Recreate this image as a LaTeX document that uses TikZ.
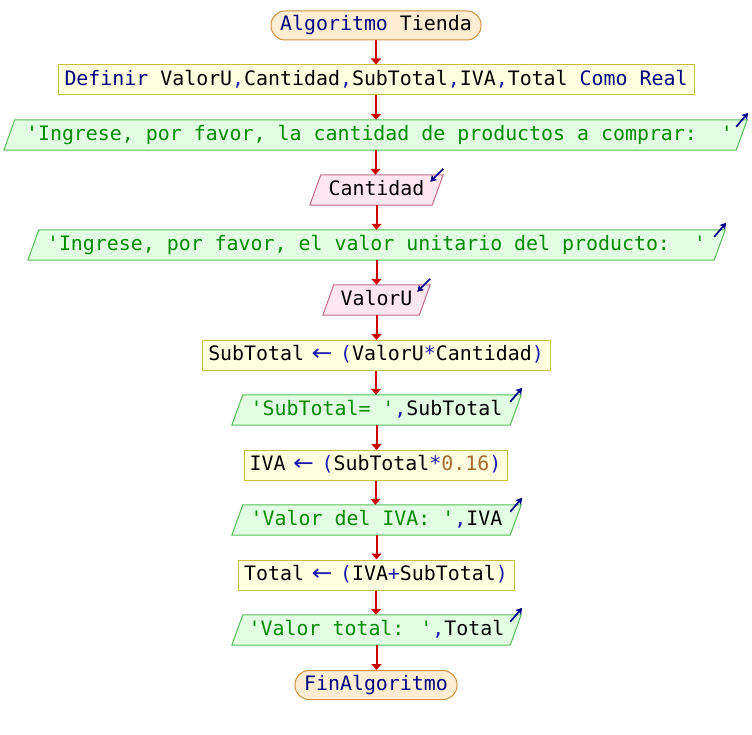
\documentclass[tikz,border=0pt]{standalone}
\usepackage{fontspec}
\newfontfamily\codefont{DejaVu Sans Mono}
\newfontfamily\arrowfont{DejaVu Sans}
\usetikzlibrary{arrows.meta}
\pgfdeclarelayer{bg}
\pgfsetlayers{bg,main}

% syntax colours
\definecolor{kwcol}{HTML}{000080}
\definecolor{pucol}{HTML}{1A1AB0}
\definecolor{stcol}{HTML}{008A00}
\definecolor{nucol}{HTML}{A86A2E}
% shape colours
\definecolor{startfill}{HTML}{FFEDD3}
\definecolor{startdraw}{HTML}{CF9040}
\definecolor{deffill}{HTML}{FFFFE0}
\definecolor{defdraw}{HTML}{C8BE3C}
\definecolor{outfill}{HTML}{E3FFE3}
\definecolor{outdraw}{HTML}{55BE55}
\definecolor{infill}{HTML}{FFE6F0}
\definecolor{indraw}{HTML}{C46A8C}
\definecolor{flowcol}{HTML}{CC0000}
\definecolor{iocol}{HTML}{00008C}

\newcommand\pkw[1]{\textcolor{kwcol}{#1}}
\newcommand\ppu[1]{\textcolor{pucol}{#1}}
\newcommand\pst[1]{\textcolor{stcol}{#1}}
\newcommand\pnu[1]{\textcolor{nucol}{#1}}
\newcommand\sq{\textquotesingle}
% assignment arrow, wider than one character cell
\newcommand\passign{\makebox[12pt][c]{\textcolor{pucol}{\scalebox{1.25}[1.1]{\arrowfont ←}}}}

\begin{document}
\begin{tikzpicture}[x=1pt,y=-1pt,
  every node/.style={font=\codefont\fontsize{19.9}{24}\selectfont,
    inner sep=0pt, text height=14.5pt, text depth=4pt, minimum height=30pt},
  startbox/.style={draw=startdraw, fill=startfill, line width=1pt,
    rounded corners=14pt, minimum height=29pt},
  procbox/.style={draw=defdraw, fill=deffill, line width=1pt},
  iobox/.style={},
  outshape/.style={draw=outdraw, fill=outfill, line width=1pt},
  inshape/.style={draw=indraw, fill=infill, line width=1pt},
  flow/.style={draw=flowcol, line width=2pt,
    -{Triangle[length=6pt,width=10pt]}},
  ioarrow/.style={draw=iocol, line width=1.7pt,
    -{Stealth[length=6pt,width=7pt,inset=1pt]}}
]
\useasboundingbox (0,0) rectangle (752,735);

\node[startbox, minimum width=210pt] (start) at (376,25.5) {\pkw{Algoritmo} Tienda};
\node[procbox, minimum width=636pt] (def) at (376,80)
  {\pkw{Definir} ValorU\ppu{,}Cantidad\ppu{,}SubTotal\ppu{,}IVA\ppu{,}Total \pkw{Como Real}};
\node[iobox, minimum width=743pt] (o1) at (375.5,135)
  {\hspace*{8pt}\pst{\sq Ingrese, por favor, la cantidad de productos a comprar:\ \ \sq}};
\node[iobox, minimum width=133pt] (in1) at (376.5,190) {Cantidad};
\node[iobox, minimum width=697pt] (o2) at (376.5,245)
  {\pst{\sq Ingrese, por favor, el valor unitario del producto:\ \ \sq}};
\node[iobox, minimum width=107pt] (in2) at (376.5,300) {ValorU};
\node[procbox, minimum width=348pt] (a1) at (376,355.5)
  {SubTotal \passign{} \ppu{(}ValorU\ppu{*}Cantidad\ppu{)}};
\node[iobox, minimum width=289pt] (o3) at (376.5,410)
  {\pst{\sq SubTotal= \sq}\ppu{,}SubTotal};
\node[procbox, minimum width=263pt] (a2) at (375.5,465.5)
  {IVA \passign{} \ppu{(}SubTotal\ppu{*}\pnu{0.16}\ppu{)}};
\node[iobox, minimum width=289pt] (o4) at (376.5,520)
  {\pst{\sq Valor del IVA: \sq}\ppu{,}IVA};
\node[procbox, minimum width=276pt] (a3) at (376,575)
  {Total \passign{} \ppu{(}IVA\ppu{+}SubTotal\ppu{)}};
\node[iobox, minimum width=289pt] (o5) at (376.5,630)
  {\pst{\sq Valor total: \sq}\ppu{,}Total};
\node[startbox, minimum width=162pt] (fin) at (376,685) {\pkw{FinAlgoritmo}};

% slanted input/output shapes behind their texts
\begin{pgfonlayer}{bg}
  \foreach \n in {o1,o2,o3,o4,o5}
    \path[outshape] ([xshift=11pt]\n.north west) -- (\n.north east)
      -- ([xshift=-11pt]\n.south east) -- (\n.south west) -- cycle;
  \foreach \n in {in1,in2}
    \path[inshape] ([xshift=11pt]\n.north west) -- (\n.north east)
      -- ([xshift=-11pt]\n.south east) -- (\n.south west) -- cycle;
\end{pgfonlayer}

% output markers (pointing out) and input markers (pointing in)
\foreach \n in {o1,o2,o3,o4,o5}
  \draw[ioarrow] ([shift={(-11,7)}]\n.north east) -- ([shift={(1,-7)}]\n.north east);
\foreach \n in {in1,in2}
  \draw[ioarrow] ([shift={(0,-6)}]\n.north east) -- ([shift={(-13,7)}]\n.north east);

% control flow
\foreach \a/\b in {start/def,def/o1,o1/in1,in1/o2,o2/in2,in2/a1,a1/o3,o3/a2,a2/o4,o4/a3,a3/o5,o5/fin}
  \draw[flow] (\a.south) -- (\a.south |- \b.north);
\end{tikzpicture}
\end{document}
